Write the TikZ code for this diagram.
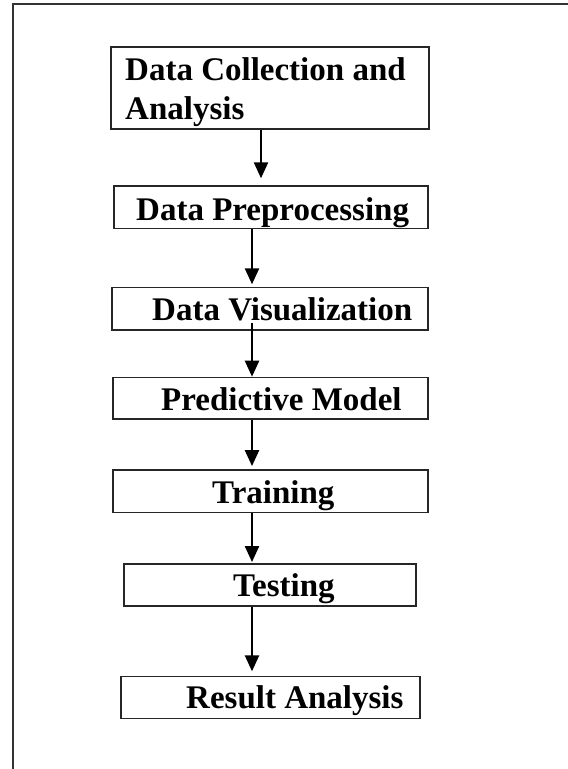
\documentclass[tikz,border=0pt]{standalone}
\usepackage{fontspec}
\setmainfont{Liberation Serif}
\usetikzlibrary{arrows.meta}
\begin{document}
\begin{tikzpicture}[x=1pt,y=-1pt,
		box/.style={rectangle, draw=black!85, line width=1.3pt, inner sep=0pt},
		frame/.style={line width=1.3pt, black!80},
		lbl/.style={anchor=base west, inner sep=0pt, font=\fontsize{33}{39}\selectfont\bfseries},
		arr/.style={line width=2.3pt, -{Triangle[length=16pt,width=14pt]}}]
				\useasboundingbox (0,0) rectangle (568,769);
				\clip (0,0) rectangle (568,769);
				% Frame
				\coordinate (corner) at (13,4);
				\coordinate (bottom) at (13,790);
				\coordinate (right) at (590,4);
				\draw [frame] (bottom) -- (corner) -- (right);
				
				\coordinate (spine1) at (261,0);
				\coordinate (spine) at (252,0);
				
			 	% Nodes
			 	\node[box, minimum width=318pt, minimum height=82pt] (collect) at (270,88) {};
			 	\node[lbl] at (125,80) {Data Collection and};
			 	\node[lbl] at (125,119) {Analysis};
			 	
			 	\node[box, minimum width=314pt, minimum height=42.7pt] (prep) at (271,207.3) {};
			 	\node[lbl] at (136,220) {Data Preprocessing};
			 	
			 	\node[box, minimum width=316pt, minimum height=42.3pt] (visual) at (270,308.8) {};
			 	\node[lbl] at (152,320.7) {Data Visualization};
			 	
			 	\node[box, minimum width=315pt, minimum height=41.7pt] (model) at (270.5,398.2) {};
			 	\node[lbl] at (161,410) {Predictive Model};
			 	
			 	\node[box, minimum width=315pt, minimum height=42.3pt] (train) at (270.5,491.2) {};
			 	\node[lbl] at (212,503.3) {Training};
			 	
			 	\node[box, minimum width=292pt, minimum height=42pt] (test) at (270,585) {};
			 	\node[lbl] at (233,596.7) {Testing};
			 	
			 	\node[box, minimum width=299pt, minimum height=42pt] (result) at (270.5,697.3) {};
			 	\node[lbl] at (186,708.3) {Result Analysis};
			 	
			 	% Arrows
			 	\draw[arr, shorten >=7pt] (collect.south -| spine1) -- (prep.north -| spine1);
			 	\draw[arr, shorten >=2.7pt] (prep.south -| spine) -- (visual.north -| spine);
			 	\draw[arr] ([yshift=8pt]visual.south -| spine) -- (model.north -| spine);
			 	\draw[arr, shorten >=3.3pt] (model.south -| spine) -- (train.north -| spine);
			 	\draw[arr, shorten >=1.3pt] (train.south -| spine) -- (test.north -| spine);
			 	\draw[arr, shorten >=4.3pt] (test.south -| spine) -- (result.north -| spine);
\end{tikzpicture}
\end{document}
